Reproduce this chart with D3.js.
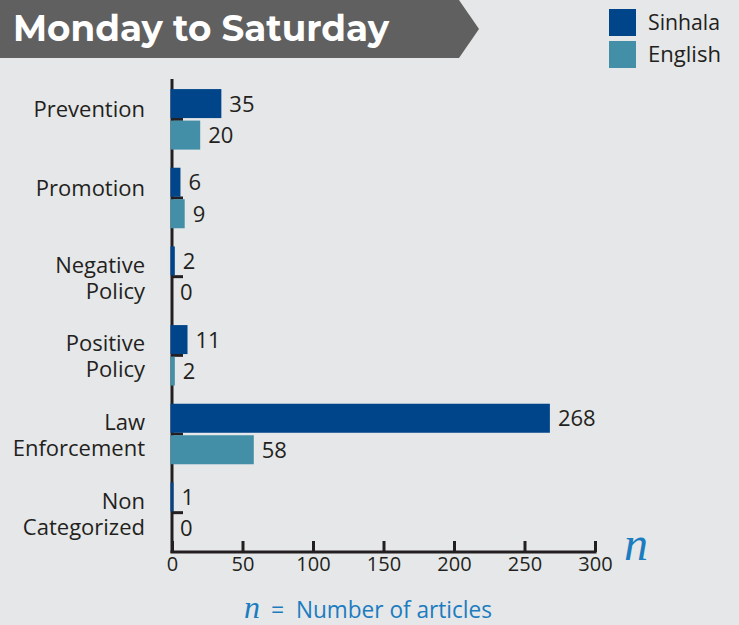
<!DOCTYPE html>
<html>
<head>
<meta charset="utf-8">
<script src="https://cdn.jsdelivr.net/npm/d3@7"></script>
<style>
  html, body { margin: 0; padding: 0; background: #e6e7e8; }
  svg { display: block; }
  text { font-family: "Open Sans", "Noto Sans", sans-serif; }
</style>
</head>
<body>
<svg id="chart" width="739" height="625"></svg>
<script>
// ---- Data ----
const title = "Monday to Saturday";
const categories = ["Prevention", "Promotion", "Negative Policy", "Positive Policy", "Law Enforcement", "Non Categorized"];
const categoryLines = [["Prevention"], ["Promotion"], ["Negative", "Policy"], ["Positive", "Policy"], ["Law", "Enforcement"], ["Non", "Categorized"]];
const seriesNames = ["Sinhala", "English"];
const sinhalaValues = [35, 6, 2, 11, 268, 1];
const englishValues = [20, 9, 0, 2, 58, 0];
const xTicks = [0, 50, 100, 150, 200, 250, 300];
const xLabelNote = "Number of articles";

// ---- Styles ----
const colors = { Sinhala: "#00448a", English: "#438fa8" };
const ink = "#231f20";
const blue = "#1b7cc0";

const svg = d3.select("#chart");

// Title banner
svg.append("path")
  .attr("d", "M0,0 L459,0 L479,29 L459,58 L0,58 Z")
  .attr("fill", "#606060");
svg.append("text")
  .attr("x", 13).attr("y", 41)
  .attr("fill", "#ffffff")
  .attr("font-weight", 700)
  .attr("font-size", 36)
  .attr("textLength", 376)
  .attr("lengthAdjust", "spacingAndGlyphs")
  .style("font-family", "Montserrat, 'Open Sans', sans-serif")
  .text(title);

// Legend
const legend = svg.append("g");
seriesNames.forEach((s, i) => {
  legend.append("rect")
    .attr("x", 609).attr("y", 9 + i * 32)
    .attr("width", 27).attr("height", 27)
    .attr("fill", colors[s]);
  legend.append("text")
    .attr("x", 648).attr("y", 30 + i * 32)
    .attr("font-size", 22).attr("fill", ink)
    .attr("textLength", s === "Sinhala" ? 72 : 73)
    .attr("lengthAdjust", "spacingAndGlyphs")
    .text(s);
});

// Scales
const x = d3.scaleLinear().domain([0, 300]).range([172, 595]);
const y = d3.scaleBand().domain(categories).range([80, 552]);
const ySub = d3.scaleBand().domain(seriesNames).range([0, y.bandwidth()])
  .paddingInner(0.079).paddingOuter(0.288);

// Y axis line and inward ticks at category centres
const yAxis = svg.append("g");
yAxis.append("line")
  .attr("x1", x(0)).attr("x2", x(0))
  .attr("y1", 79).attr("y2", 553)
  .attr("stroke", ink).attr("stroke-width", 3);
yAxis.selectAll("line.tick").data(categories).join("line")
  .attr("class", "tick")
  .attr("x1", x(0)).attr("x2", x(0) + 11)
  .attr("y1", d => y(d) + y.bandwidth() / 2)
  .attr("y2", d => y(d) + y.bandwidth() / 2)
  .attr("stroke", ink).attr("stroke-width", 3);

// X axis with upward ticks
const xAxis = d3.axisBottom(x).tickValues(xTicks).tickSize(-11).tickPadding(5).tickSizeOuter(0);
const gx = svg.append("g").attr("transform", "translate(0,552)").call(xAxis);
gx.select(".domain").attr("stroke", ink).attr("stroke-width", 3)
  .attr("d", `M${x(0) - 1.5},0H${x(300) + 1.5}`);
gx.selectAll(".tick line").attr("stroke", ink).attr("stroke-width", 3);
gx.selectAll(".tick text")
  .attr("fill", ink).attr("font-size", 20)
  .style("font-family", "'Open Sans', sans-serif");

// Bars
const rows = categories.map((c, i) => ({ c, i, Sinhala: sinhalaValues[i], English: englishValues[i] }));
const groups = svg.selectAll("g.cat").data(rows).join("g")
  .attr("class", "cat")
  .attr("transform", d => `translate(0,${y(d.c)})`);

seriesNames.forEach(s => {
  groups.append("rect")
    .attr("x", x(0) - 1.5)
    .attr("y", ySub(s))
    .attr("width", d => d[s] > 0 ? x(d[s]) - x(0) + 1.5 : 0)
    .attr("height", ySub.bandwidth())
    .attr("fill", colors[s]);
  groups.append("text")
    .attr("x", d => x(d[s]) + 8)
    .attr("y", ySub(s) + ySub.bandwidth() / 2 + 8)
    .attr("font-size", 22).attr("fill", ink)
    .text(d => d[s]);
});

// Category labels
groups.each(function(d) {
  const lines = categoryLines[d.i];
  const cy = y.bandwidth() / 2;
  const t = d3.select(this).append("text")
    .attr("text-anchor", "end")
    .attr("font-size", 22).attr("fill", ink);
  if (lines.length === 1) {
    t.append("tspan").attr("x", 145).attr("y", cy - 2).text(lines[0]);
  } else {
    t.append("tspan").attr("x", 145).attr("y", cy - 4).text(lines[0]);
    t.append("tspan").attr("x", 145).attr("y", cy + 22).text(lines[1]);
  }
});

// Axis symbol n
svg.append("text")
  .attr("x", 624).attr("y", 560)
  .attr("font-size", 48).attr("font-style", "italic")
  .attr("fill", blue)
  .style("font-family", "'Liberation Serif', 'DejaVu Serif', serif")
  .text("n");

// Note below
const note = svg.append("text")
  .attr("x", 244).attr("y", 618)
  .attr("fill", blue).attr("font-size", 23);
note.append("tspan")
  .attr("font-style", "italic").attr("font-size", 32)
  .style("font-family", "'Liberation Serif', 'DejaVu Serif', serif")
  .text("n");
note.append("tspan").attr("x", 271).text("=");
note.append("tspan").attr("x", 296)
  .attr("textLength", 196).attr("lengthAdjust", "spacingAndGlyphs")
  .text(xLabelNote);
</script>
</body>
</html>
